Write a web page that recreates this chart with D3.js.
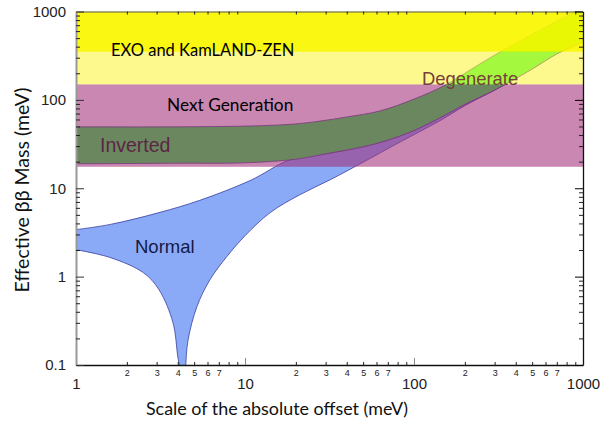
<!DOCTYPE html>
<html>
<head>
<meta charset="utf-8">
<script src="https://cdn.jsdelivr.net/npm/d3@7"></script>
<style>
  body { margin: 0; background: #fff; }
  svg { display: block; }
</style>
</head>
<body>
<script>
var width = 600;
var height = 422;
var plotLeft = 76, plotRight = 583, plotTop = 11.5, plotBottom = 365;

// bands (meV on the y axis)
var bandNames = ['next', 'lightYellow', 'exo'];
var bandLow = [17.5, 150, 350];
var bandHigh = [150, 350, 1000];

// inverted hierarchy band
var invUpX = [1, 4, 10, 16, 20, 25, 40, 63, 100, 150, 200, 300, 500, 700, 1000];
var invUpY = [49.5, 49.5, 50.5, 52, 53.5, 56, 64, 75, 102, 144, 200, 321, 550, 776, 1100];
var invLoX = [1, 4, 10, 20, 30, 50, 70, 100, 150, 200, 300, 500, 700, 1000];
var invLoY = [18.9, 19.2, 19.4, 21.3, 24.5, 29.5, 35, 45, 66, 89, 129, 224, 332, 450];

// normal hierarchy band
var normUpX = [1, 1.6, 3.1, 5.4, 10.7, 18.5, 30, 50, 70, 100, 150, 200, 300, 500, 700, 1000];
var normUpY = [3.4, 3.9, 5.3, 7.3, 12.2, 21, 24.5, 29.5, 35, 45, 66, 89, 129, 224, 332, 450];
var normLoX = [1, 1.6, 2.5, 3.1, 3.75, 4.0, 4.12, 4.2, 4.38, 4.45, 4.6, 5.2, 6.2, 7.8, 10, 14.1, 21, 32, 48, 83, 142, 200, 300, 500, 700, 1000];
var normLoY = [2.02, 1.64, 1.11, 0.71, 0.3, 0.125, 0.09, 0.04, 0.04, 0.09, 0.19, 0.46, 0.92, 1.68, 2.9, 5.3, 8.4, 12.5, 18.9, 33.5, 58, 86, 129, 224, 332, 450];

// tick labels
var xMajor = [1, 10, 100, 1000];
var yMajor = [0.1, 1, 10, 100, 1000];
var yMajorLabels = ['0.1', '1', '10', '100', '1000'];

var x = d3.scaleLog().domain([1, 1000]).range([plotLeft, plotRight]);
var y = d3.scaleLog().domain([0.1, 1000]).range([plotBottom, plotTop]);

var xMinor = [];
[1, 10, 100].forEach(function(dec){
  for (var k = 2; k <= 9; k++) xMinor.push(dec * k);
});
var yMinor = [];
[0.1, 1, 10, 100].forEach(function(dec){
  for (var k = 2; k <= 9; k++) yMinor.push(+(dec * k).toPrecision(3));
});

var svg = d3.select('body').append('svg')
  .attr('width', width)
  .attr('height', height);

svg.append('clipPath').attr('id', 'plot')
  .append('rect')
  .attr('x', plotLeft).attr('y', plotTop)
  .attr('width', plotRight - plotLeft).attr('height', plotBottom - plotTop);

var plot = svg.append('g').attr('clip-path', 'url(#plot)');

var edge = d3.line()
  .x(function(d){ return x(d[0]); })
  .y(function(d){ return y(d[1]); })
  .curve(d3.curveCatmullRom.alpha(0.5));

function bandPath(ux, uy, lx, ly) {
  var up = ux.map(function(v, i){ return [v, uy[i]]; });
  var lo = lx.map(function(v, i){ return [v, ly[i]]; }).reverse();
  return edge(up) + edge(lo).replace(/^M/, 'L') + 'Z';
}

// normal band
plot.append('path')
  .attr('d', bandPath(normUpX, normUpY, normLoX, normLoY))
  .attr('fill', '#8aaaf7')
  .attr('stroke', '#3b3f9e')
  .attr('stroke-width', 0.8);

// inverted band
plot.append('path')
  .attr('d', bandPath(invUpX, invUpY, invLoX, invLoY))
  .attr('fill', 'rgb(30,255,60)')
  .attr('stroke', '#4a3a8a')
  .attr('stroke-width', 0.8);

var bandFill = ['rgb(162,48,121)', 'rgb(253,245,63)', 'rgb(250,246,0)'];
var bandAlpha = [0.58, 0.6, 0.93];
plot.selectAll('rect.band')
  .data(bandNames)
  .enter().append('rect')
  .attr('class', 'band')
  .attr('x', plotLeft)
  .attr('width', plotRight - plotLeft)
  .attr('y', function(d, i){ return y(bandHigh[i]); })
  .attr('height', function(d, i){ return y(bandLow[i]) - y(bandHigh[i]); })
  .attr('fill', function(d, i){ return bandFill[i]; })
  .attr('fill-opacity', function(d, i){ return bandAlpha[i]; });

// labels in the plot
var labels = svg.append('g');
labels.append('text').attr('x', 111).attr('y', 56)
  .attr('font-family', 'Lato, sans-serif').attr('font-size', 16.5)
  .attr('fill', '#000').text('EXO and KamLAND-ZEN');
labels.append('text').attr('x', 167).attr('y', 111)
  .attr('font-family', 'Lato, sans-serif').attr('font-size', 17.3)
  .attr('fill', '#000').text('Next Generation');
labels.append('text').attr('x', 100).attr('y', 152)
  .attr('font-family', 'Liberation Sans, Arial, sans-serif').attr('font-size', 19.5)
  .attr('fill', '#5c2545').text('Inverted');
labels.append('text').attr('x', 422).attr('y', 85)
  .attr('font-family', 'Liberation Sans, Arial, sans-serif').attr('font-size', 18.4)
  .attr('fill', '#76403c').text('Degenerate');
labels.append('text').attr('x', 135).attr('y', 253)
  .attr('font-family', 'Liberation Sans, Arial, sans-serif').attr('font-size', 18.5)
  .attr('fill', '#151a45').text('Normal');

// axes
function styleAxis(g, color, w) {
  g.select('.domain').attr('stroke', color).attr('stroke-width', w);
  g.selectAll('.tick line').attr('stroke', '#222');
}

var bottomMinor = svg.append('g').attr('transform', 'translate(0,' + plotBottom + ')')
  .call(d3.axisBottom(x).tickValues(xMinor).tickSizeInner(-3).tickSizeOuter(0).tickPadding(5)
    .tickFormat(function(d){ var k = Math.round(d / Math.pow(10, Math.floor(Math.log10(d) + 1e-9))); return k <= 7 ? k : ''; }));
bottomMinor.selectAll('text').attr('font-family', 'Liberation Sans, Arial, sans-serif').attr('font-size', 9).attr('fill', '#222');
styleAxis(bottomMinor, '#111', 1.3);

var bottomMajor = svg.append('g').attr('transform', 'translate(0,' + plotBottom + ')')
  .call(d3.axisBottom(x).tickValues(xMajor).tickSizeInner(-7).tickSizeOuter(0).tickPadding(13)
    .tickFormat(function(d){ return d; }));
bottomMajor.select('.domain').remove();
bottomMajor.selectAll('.tick line').attr('stroke', '#888');
bottomMajor.selectAll('text').attr('font-family', 'Liberation Sans, Arial, sans-serif').attr('font-size', 15).attr('fill', '#222');

var topAxis = svg.append('g').attr('transform', 'translate(0,' + plotTop + ')')
  .call(d3.axisTop(x).tickValues(xMinor).tickSizeInner(-3).tickSizeOuter(0).tickFormat(''));
styleAxis(topAxis, '#555', 1);

var leftMinor = svg.append('g').attr('transform', 'translate(' + plotLeft + ',0)')
  .call(d3.axisLeft(y).tickValues(yMinor).tickSizeInner(-4).tickSizeOuter(0).tickFormat(''));
styleAxis(leftMinor, '#999', 2);

var leftMajor = svg.append('g').attr('transform', 'translate(' + plotLeft + ',0)')
  .call(d3.axisLeft(y).tickValues(yMajor).tickSizeInner(-8).tickSizeOuter(0).tickPadding(10)
    .tickFormat(function(d, i){ return yMajorLabels[i]; }));
leftMajor.select('.domain').remove();
leftMajor.selectAll('.tick line').attr('stroke', '#333');
leftMajor.selectAll('text').attr('font-family', 'Liberation Sans, Arial, sans-serif').attr('font-size', 15).attr('fill', '#222');

var rightMinor = svg.append('g').attr('transform', 'translate(' + plotRight + ',0)')
  .call(d3.axisRight(y).tickValues(yMinor).tickSizeInner(-4).tickSizeOuter(0).tickFormat(''));
styleAxis(rightMinor, '#111', 1.3);
var rightMajor = svg.append('g').attr('transform', 'translate(' + plotRight + ',0)')
  .call(d3.axisRight(y).tickValues(yMajor).tickSizeInner(-8).tickSizeOuter(0).tickFormat(''));
rightMajor.select('.domain').remove();

// axis titles
svg.append('text')
  .attr('x', 277).attr('y', 415)
  .attr('text-anchor', 'middle')
  .attr('font-family', 'Lato, sans-serif').attr('font-size', 17.9)
  .attr('fill', '#111')
  .text('Scale of the absolute offset (meV)');

svg.append('text')
  .attr('transform', 'translate(29,190) rotate(-90)')
  .attr('text-anchor', 'middle')
  .attr('font-family', 'Lato, sans-serif').attr('font-size', 19.5)
  .attr('fill', '#111')
  .text('Effective ββ Mass (meV)');
</script>
</body>
</html>
